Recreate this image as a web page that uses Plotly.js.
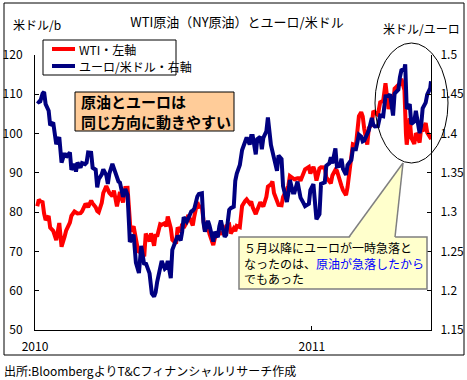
<!DOCTYPE html>
<html><head><meta charset="utf-8">
<script src="https://cdn.plot.ly/plotly-3.0.1.min.js"></script>
<style>html,body{margin:0;padding:0;background:#fff;}#chart{width:467px;height:380px;}</style>
</head><body><div id="chart"></div>
<script>
// WTI crude (USD/bbl, left axis)
const oilDates = ['2010-01-04','2010-01-06','2010-01-08','2010-01-11','2010-01-13','2010-01-15','2010-01-19','2010-01-21','2010-01-25','2010-01-27','2010-01-29','2010-02-02','2010-02-04','2010-02-05','2010-02-09','2010-02-11','2010-02-16','2010-02-18','2010-02-22','2010-02-24','2010-02-26','2010-03-02','2010-03-04','2010-03-08','2010-03-10','2010-03-12','2010-03-16','2010-03-18','2010-03-22','2010-03-24','2010-03-26','2010-03-30','2010-04-01','2010-04-05','2010-04-07','2010-04-09','2010-04-13','2010-04-15','2010-04-19','2010-04-21','2010-04-23','2010-04-27','2010-04-30','2010-05-03','2010-05-05','2010-05-07','2010-05-11','2010-05-13','2010-05-17','2010-05-19','2010-05-21','2010-05-25','2010-05-27','2010-06-01','2010-06-03','2010-06-07','2010-06-09','2010-06-11','2010-06-15','2010-06-17','2010-06-21','2010-06-23','2010-06-25','2010-06-29','2010-07-01','2010-07-06','2010-07-08','2010-07-12','2010-07-14','2010-07-16','2010-07-20','2010-07-22','2010-07-26','2010-07-28','2010-07-30','2010-08-03','2010-08-05','2010-08-09','2010-08-11','2010-08-13','2010-08-17','2010-08-19','2010-08-24','2010-08-26','2010-08-30','2010-09-01','2010-09-03','2010-09-08','2010-09-10','2010-09-14','2010-09-16','2010-09-20','2010-09-22','2010-09-24','2010-09-28','2010-10-01','2010-10-05','2010-10-07','2010-10-11','2010-10-13','2010-10-15','2010-10-19','2010-10-21','2010-10-25','2010-10-27','2010-10-29','2010-11-02','2010-11-04','2010-11-08','2010-11-10','2010-11-12','2010-11-16','2010-11-18','2010-11-22','2010-11-24','2010-11-29','2010-12-01','2010-12-03','2010-12-07','2010-12-09','2010-12-13','2010-12-15','2010-12-17','2010-12-21','2010-12-23','2010-12-28','2010-12-30','2011-01-03','2011-01-05','2011-01-07','2011-01-11','2011-01-13','2011-01-18','2011-01-20','2011-01-24','2011-01-26','2011-01-28','2011-02-01','2011-02-03','2011-02-07','2011-02-09','2011-02-11','2011-02-15','2011-02-17','2011-02-22','2011-02-24','2011-02-28','2011-03-02','2011-03-04','2011-03-07','2011-03-09','2011-03-11','2011-03-15','2011-03-17','2011-03-21','2011-03-23','2011-03-25','2011-03-29','2011-04-01','2011-04-05','2011-04-08','2011-04-12','2011-04-14','2011-04-18','2011-04-20','2011-04-25','2011-04-27','2011-04-29','2011-05-03','2011-05-05','2011-05-06','2011-05-10','2011-05-12','2011-05-16','2011-05-18','2011-05-20','2011-05-23','2011-05-25','2011-05-27','2011-05-31','2011-06-02','2011-06-06','2011-06-07'];
const oilValues = [81.51,83.18,82.75,82.52,79.65,78.00,79.02,76.08,75.26,73.67,72.89,77.23,73.14,71.19,73.75,75.28,77.33,79.06,80.16,80.00,79.66,79.73,80.21,81.87,81.94,81.24,82.93,82.20,81.25,80.29,80.00,82.37,84.87,86.62,85.88,84.92,84.05,85.51,81.45,83.68,85.12,82.44,86.15,86.19,79.97,75.11,76.37,74.38,70.08,69.87,70.04,68.75,74.55,72.58,74.61,71.44,74.38,73.78,76.94,76.79,77.18,76.35,78.86,75.94,72.95,71.98,76.09,75.00,77.04,76.01,77.43,79.30,77.50,76.60,78.95,82.55,81.33,81.48,78.02,75.39,76.08,74.43,71.63,73.36,74.70,75.02,74.60,74.67,76.45,76.80,74.57,75.86,75.18,76.49,76.18,81.58,82.82,83.23,82.21,82.69,81.25,79.49,80.56,82.52,81.94,81.43,83.90,86.49,87.06,87.81,84.88,82.34,81.85,81.74,83.86,85.73,86.75,89.19,88.69,88.37,88.61,88.62,88.02,89.82,90.89,91.49,89.84,91.55,90.30,88.03,91.11,91.40,91.38,88.86,87.87,87.33,89.34,90.77,90.54,87.48,86.71,85.58,84.32,86.36,93.57,97.28,96.97,101.91,104.42,105.44,104.38,101.16,97.18,101.42,102.33,105.75,105.40,104.79,107.94,108.34,112.79,106.25,108.11,107.12,111.45,112.28,112.76,113.93,111.05,99.80,97.18,103.88,98.97,97.37,100.10,99.49,97.70,101.32,100.59,102.70,100.29,99.01,99.09];

// EUR/USD (right axis)
const eurDates = ['2010-01-04','2010-01-06','2010-01-08','2010-01-11','2010-01-13','2010-01-15','2010-01-19','2010-01-21','2010-01-25','2010-01-27','2010-01-29','2010-02-02','2010-02-04','2010-02-05','2010-02-09','2010-02-11','2010-02-16','2010-02-18','2010-02-22','2010-02-24','2010-02-26','2010-03-02','2010-03-04','2010-03-08','2010-03-10','2010-03-12','2010-03-16','2010-03-18','2010-03-22','2010-03-24','2010-03-26','2010-03-30','2010-04-01','2010-04-05','2010-04-07','2010-04-09','2010-04-13','2010-04-15','2010-04-19','2010-04-21','2010-04-23','2010-04-27','2010-04-30','2010-05-03','2010-05-05','2010-05-06','2010-05-11','2010-05-13','2010-05-14','2010-05-18','2010-05-21','2010-05-25','2010-05-27','2010-06-01','2010-06-04','2010-06-07','2010-06-09','2010-06-11','2010-06-15','2010-06-17','2010-06-21','2010-06-23','2010-06-25','2010-06-29','2010-07-01','2010-07-06','2010-07-08','2010-07-12','2010-07-14','2010-07-16','2010-07-20','2010-07-22','2010-07-26','2010-07-28','2010-07-30','2010-08-03','2010-08-05','2010-08-09','2010-08-11','2010-08-13','2010-08-17','2010-08-19','2010-08-24','2010-08-26','2010-08-30','2010-09-01','2010-09-03','2010-09-08','2010-09-10','2010-09-14','2010-09-16','2010-09-20','2010-09-22','2010-09-24','2010-09-28','2010-10-01','2010-10-05','2010-10-07','2010-10-11','2010-10-13','2010-10-15','2010-10-19','2010-10-21','2010-10-25','2010-10-27','2010-10-29','2010-11-02','2010-11-04','2010-11-08','2010-11-10','2010-11-12','2010-11-16','2010-11-18','2010-11-22','2010-11-24','2010-11-29','2010-12-01','2010-12-03','2010-12-07','2010-12-09','2010-12-13','2010-12-15','2010-12-17','2010-12-21','2010-12-23','2010-12-28','2010-12-30','2011-01-03','2011-01-05','2011-01-07','2011-01-11','2011-01-13','2011-01-18','2011-01-20','2011-01-24','2011-01-26','2011-01-28','2011-02-01','2011-02-03','2011-02-07','2011-02-09','2011-02-11','2011-02-15','2011-02-17','2011-02-22','2011-02-24','2011-02-28','2011-03-02','2011-03-04','2011-03-07','2011-03-09','2011-03-11','2011-03-15','2011-03-17','2011-03-21','2011-03-23','2011-03-25','2011-03-29','2011-04-01','2011-04-05','2011-04-08','2011-04-12','2011-04-14','2011-04-18','2011-04-20','2011-04-25','2011-04-27','2011-04-29','2011-05-03','2011-05-04','2011-05-06','2011-05-10','2011-05-12','2011-05-16','2011-05-18','2011-05-20','2011-05-23','2011-05-25','2011-05-27','2011-05-31','2011-06-02','2011-06-06','2011-06-07'];
const eurValues = [1.4416,1.4400,1.4410,1.4510,1.4530,1.4375,1.4290,1.4105,1.4140,1.4005,1.3865,1.3955,1.3720,1.3630,1.3750,1.3700,1.3760,1.3540,1.3615,1.3515,1.3630,1.3565,1.3625,1.3610,1.3630,1.3760,1.3755,1.3565,1.3540,1.3315,1.3420,1.3480,1.3545,1.3470,1.3360,1.3490,1.3615,1.3560,1.3430,1.3390,1.3375,1.3195,1.3295,1.3220,1.2835,1.2620,1.2715,1.2520,1.2358,1.2225,1.2570,1.2330,1.2355,1.2220,1.1965,1.1925,1.1980,1.2110,1.2315,1.2380,1.2280,1.2300,1.2380,1.2160,1.2520,1.2630,1.2700,1.2640,1.2750,1.2935,1.2880,1.2920,1.3010,1.3020,1.3045,1.3200,1.3230,1.3240,1.2870,1.2750,1.2890,1.2830,1.2625,1.2750,1.2680,1.2820,1.2895,1.2685,1.2710,1.3030,1.3050,1.3070,1.3400,1.3490,1.3600,1.3790,1.3880,1.3950,1.3860,1.3970,1.3970,1.3735,1.3930,1.3960,1.3800,1.3945,1.4030,1.4205,1.3855,1.3780,1.3685,1.3525,1.3720,1.3675,1.3330,1.3130,1.3240,1.3410,1.3250,1.3250,1.3390,1.3260,1.3185,1.3115,1.3075,1.3105,1.3280,1.3355,1.3150,1.2910,1.2975,1.3360,1.3380,1.3590,1.3620,1.3700,1.3620,1.3810,1.3580,1.3590,1.3680,1.3550,1.3475,1.3600,1.3665,1.3800,1.3800,1.3880,1.3985,1.3960,1.3900,1.3910,1.3985,1.4040,1.4200,1.4110,1.4090,1.4095,1.4230,1.4220,1.4475,1.4480,1.4500,1.4230,1.4510,1.4560,1.4715,1.4805,1.4830,1.4880,1.4315,1.4375,1.4120,1.4155,1.4290,1.4155,1.4005,1.4100,1.4320,1.4395,1.4495,1.4580,1.4665];

const seriesNames = ['WTI・左軸', 'ユーロ/米ドル・右軸'];
const seriesColors = ['#FF0000', '#000080'];
const xTickVals = ['2010-01-01', '2011-01-01'];
const xTickText = ['2010', '2011'];

// pixel -> paper helpers (plot area: x 35..431, y 55..330)
const L = 35, R = 431, T = 55, B = 330;
const px = v => (v - L) / (R - L);
const py = v => (B - v) / (B - T);

const FONT = '"Noto Sans CJK JP", "Noto Sans CJK SC", sans-serif';

const traces = [
  {x: oilDates, y: oilValues, name: seriesNames[0], type: 'scatter', mode: 'lines',
   line: {color: seriesColors[0], width: 4}, yaxis: 'y', showlegend: false},
  {x: eurDates, y: eurValues, name: seriesNames[1], type: 'scatter', mode: 'lines',
   line: {color: seriesColors[1], width: 4}, yaxis: 'y2', showlegend: false}
];

// legend (drawn as shapes + annotations for exact placement)
const legendRows = [49, 66];
const legendShapes = [
  {type: 'rect', xref: 'paper', yref: 'paper', x0: px(43), x1: px(176), y0: py(75), y1: py(40),
   fillcolor: '#fff', line: {color: '#000', width: 1}}
].concat(seriesNames.map((n, i) => ({
  type: 'line', xref: 'paper', yref: 'paper', x0: px(52), x1: px(75), y0: py(legendRows[i]), y1: py(legendRows[i]),
  line: {color: seriesColors[i], width: 4}})));
const legendAnn = seriesNames.map((n, i) => ({
  text: n, xref: 'paper', yref: 'paper', x: px(77), y: py(legendRows[i]), xanchor: 'left', yanchor: 'middle',
  showarrow: false, font: {size: 12, color: '#000'}}));

const layout = {
  width: 467, height: 380,
  margin: {l: L, r: 467 - R, t: T, b: 380 - B, pad: 0},
  paper_bgcolor: '#ffffff', plot_bgcolor: '#ffffff',
  font: {family: FONT, size: 12, color: '#000'},
  title: {text: 'WTI原油（NY原油）とユーロ/米ドル', font: {family: FONT, size: 13, color: '#000'},
          x: 237 / 467, xref: 'container', xanchor: 'center', y: 1 - 22 / 380, yref: 'container', yanchor: 'middle'},
  showlegend: false,
  xaxis: {type: 'date', range: ['2010-01-01', '2011-06-07'], tickmode: 'array', tickvals: xTickVals, ticktext: xTickText,
          showgrid: false, zeroline: false, showline: true, linecolor: '#000', linewidth: 1,
          ticks: 'inside', ticklen: 4, tickcolor: '#000', ticklabelstandoff: 6, tickfont: {size: 12}},
  yaxis: {range: [50, 120], tick0: 50, dtick: 10, showgrid: false, zeroline: false, showline: true,
          linecolor: '#000', linewidth: 1, ticks: 'inside', ticklen: 4, tickcolor: '#000',
          ticklabelstandoff: 9, tickfont: {size: 12}},
  yaxis2: {range: [1.15, 1.5], tick0: 1.15, dtick: 0.05, overlaying: 'y', side: 'right', showgrid: false,
           zeroline: false, showline: true, linecolor: '#000', linewidth: 1, ticks: 'inside', ticklen: 4,
           tickcolor: '#000', ticklabelstandoff: 6, tickfont: {size: 12}},
  shapes: [
    // outer frame
    {type: 'rect', xref: 'paper', yref: 'paper', x0: px(4), x1: px(464), y0: py(355), y1: py(3),
     line: {color: '#000', width: 1}, layer: 'below'},
    // orange message box
    {type: 'rect', xref: 'paper', yref: 'paper', x0: px(75), x1: px(234), y0: py(131), y1: py(92),
     fillcolor: '#FFCC99', line: {color: '#000', width: 1}},
    // ellipse
    {type: 'circle', xref: 'paper', yref: 'paper', x0: px(375), x1: px(448), y0: py(163), y1: py(43),
     line: {color: '#000', width: 1}},
    // callout box
    {type: 'rect', xref: 'paper', yref: 'paper', x0: px(239), x1: px(427), y0: py(289), y1: py(237),
     fillcolor: '#FFFFCC', line: {color: '#7F7F7F', width: 1.5}},
    // callout pointer fill
    {type: 'path', xref: 'paper', yref: 'paper',
     path: `M ${px(349)} ${py(238.5)} L ${px(403)} ${py(163)} L ${px(395)} ${py(238.5)} Z`,
     fillcolor: '#FFFFCC', line: {width: 0}},
    // pointer edges
    {type: 'line', xref: 'paper', yref: 'paper', x0: px(349), y0: py(237), x1: px(403), y1: py(163),
     line: {color: '#7F7F7F', width: 1.5}},
    {type: 'line', xref: 'paper', yref: 'paper', x0: px(395), y0: py(237), x1: px(403), y1: py(163),
     line: {color: '#7F7F7F', width: 1.5}}
  ].concat(legendShapes),
  annotations: [
    {text: '米ドル/b', xref: 'paper', yref: 'paper', x: px(11), y: py(25), xanchor: 'left', yanchor: 'middle',
     showarrow: false, font: {size: 12}},
    {text: '米ドル/ユーロ', xref: 'paper', yref: 'paper', x: px(381), y: py(28), xanchor: 'left', yanchor: 'middle',
     showarrow: false, font: {size: 12}},
    {text: '<b>原油とユーロは<br>同じ方向に動きやすい</b>', xref: 'paper', yref: 'paper', x: px(79), y: py(111.5),
     xanchor: 'left', yanchor: 'middle', align: 'left', showarrow: false, font: {size: 15, color: '#000'}},
    {text: '５月以降にユーロが一時急落と<br>なったのは、<span style="color:#0000FF">原油が急落したから</span><br>でもあった',
     xref: 'paper', yref: 'paper', x: px(242), y: py(263), xanchor: 'left', yanchor: 'middle', align: 'left',
     showarrow: false, font: {size: 12, color: '#000'}},
    {text: '出所:BloombergよりT&Cフィナンシャルリサーチ作成', xref: 'paper', yref: 'paper', x: px(2), y: py(370),
     xanchor: 'left', yanchor: 'middle', showarrow: false, font: {size: 12}}
  ].concat(legendAnn)
};

Plotly.newPlot('chart', traces, layout, {displayModeBar: false, staticPlot: true});
</script></body></html>
